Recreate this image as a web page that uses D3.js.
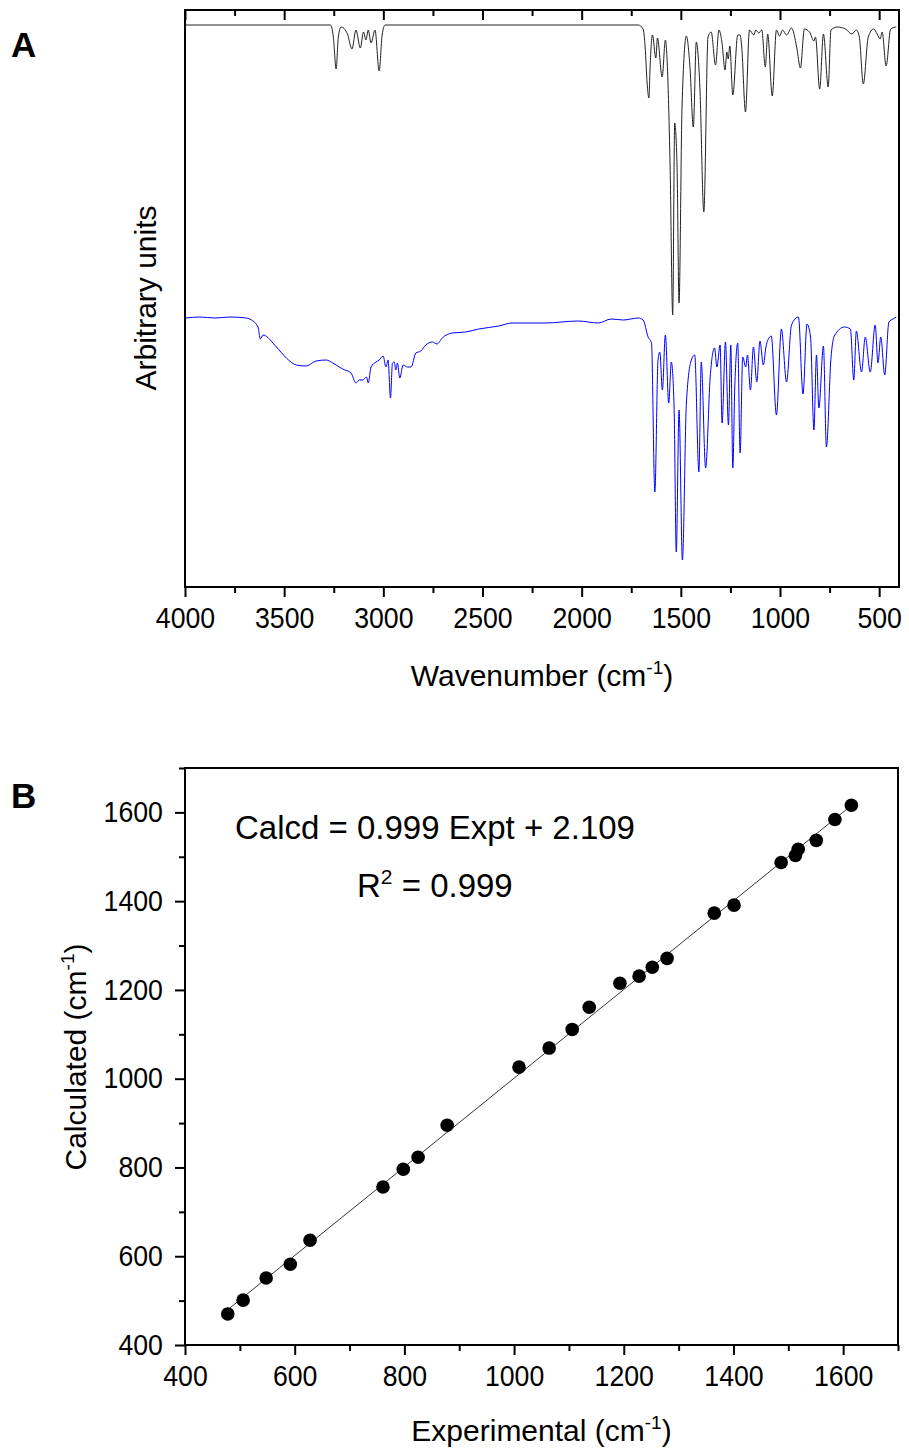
<!DOCTYPE html>
<html>
<head>
<meta charset="utf-8">
<script src="https://cdn.jsdelivr.net/npm/d3@7"></script>
<style>
  body { margin: 0; background: #fff; }
  text { font-family: Arial, "Liberation Sans", sans-serif; fill: #000; }
</style>
</head>
<body>
<svg id="fig" width="909" height="1449"></svg>
<script>
// ---- panel A: IR spectra (wavenumber, arbitrary units) ----
const calcWavenumber = [4000, 3267, 3252, 3238, 3227, 3213, 3181, 3158, 3138, 3116, 3100, 3088, 3076, 3062, 3042, 3021, 3006, 2991,
  1715, 1690, 1680, 1670, 1661, 1655, 1643, 1626, 1618, 1594, 1578, 1554, 1541, 1531, 1519, 1509, 1494, 1472, 1454, 1437, 1422,
  1404, 1384, 1363, 1347, 1325, 1308, 1293, 1277, 1268, 1261, 1253, 1238, 1213, 1201, 1193, 1174, 1154, 1132, 1122, 1107, 1092,
  1074, 1062, 1039, 1018, 1002, 987, 967, 942, 916, 897, 877, 851, 829, 821, 800, 781, 757, 743, 711, 670, 637, 615, 600, 580,
  555, 528, 510, 495, 485, 465, 442, 414]
const calcIntensity = [562, 562, 550, 518, 550, 560, 553, 538, 557, 539, 555, 547, 557, 544, 557, 516, 552, 562,
  562, 558, 540, 504, 489, 520, 552, 529, 549, 510, 547, 420, 272, 464, 420, 284, 480, 551, 520, 460, 545,
  500, 375, 550, 555, 522, 557, 545, 517, 535, 528, 541, 492, 552, 552, 540, 475, 557, 552, 557, 554, 557,
  520, 553, 491, 557, 551, 557, 552, 559, 540, 519, 558, 555, 546, 550, 498, 553, 500, 557, 560, 558, 553, 557, 550, 503,
  550, 558, 553, 548, 555, 521, 558, 560]

const exptWavenumber = [4000, 3925, 3849, 3774, 3690, 3665, 3632, 3620, 3607, 3539, 3489, 3439, 3389, 3339, 3288, 3255, 3205,
  3163, 3138, 3121, 3103, 3085, 3076, 3062, 3037, 3021, 3001, 2987, 2976, 2964, 2954, 2945, 2937, 2929, 2917, 2900, 2879, 2860,
  2836, 2811, 2786, 2753, 2729, 2703, 2653, 2585, 2519, 2418, 2351, 2184, 2016, 1916, 1851, 1790, 1715, 1690, 1665, 1648, 1631,
  1615, 1606, 1593, 1578, 1561, 1548, 1534, 1523, 1509, 1492, 1472, 1447, 1430, 1409, 1397, 1375, 1352, 1330, 1318, 1302, 1292,
  1275, 1260, 1248, 1238, 1228, 1213, 1201, 1188, 1173, 1164, 1149, 1134, 1117, 1101, 1084, 1071, 1052, 1044, 1018, 993, 967,
  942, 907, 884, 864, 846, 829, 816, 804, 781, 766, 743, 726, 675, 645, 628, 615, 589, 570, 545, 520, 506, 492, 472, 451, 430, 414]
const exptIntensity = [269, 270, 269, 270, 269, 267, 260, 248, 252, 240, 229, 222, 221, 226, 227, 224, 218,
  214, 204, 207, 207, 210, 204, 220, 225, 227, 231, 220, 227, 189, 224, 225, 217, 224, 209, 222, 220, 220,
  234, 236, 242, 245, 243, 249, 254, 255, 258, 261, 264, 264, 266, 264, 268, 267, 269, 267, 250, 244, 95,
  227, 235, 197, 252, 184, 225, 180, 35, 177, 27, 184, 227, 232, 115, 225, 119, 210, 239, 220, 242, 164,
  245, 162, 242, 119, 200, 244, 134, 230, 220, 232, 197, 240, 205, 246, 222, 240, 250, 251, 172, 258, 205,
  262, 270, 193, 263, 250, 157, 232, 179, 241, 140, 229, 251, 260, 258, 207, 256, 215, 250, 215, 262, 224, 250, 212, 265, 268, 270]

const wavenumberTicks = [4000, 3500, 3000, 2500, 2000, 1500, 1000, 500]
const wavenumberMinor = [3750, 3250, 2750, 2250, 1750, 1250, 750]

// ---- panel B: calculated vs experimental frequencies ----
const exptFreq = [478, 506, 548, 592, 628, 761, 798, 825, 878, 1009, 1064, 1106, 1137, 1193, 1228, 1252, 1279,
  1365, 1401, 1487, 1513, 1518, 1551, 1585, 1615]
const calcFreq = [470, 501, 551, 582, 636, 756, 796, 823, 895, 1026, 1069, 1111, 1161, 1215, 1231, 1251, 1271,
  1373, 1391, 1487, 1503, 1517, 1537, 1584, 1616]
const fitSlope = 0.999, fitIntercept = 2.109
const freqTicks = [400, 600, 800, 1000, 1200, 1400, 1600]
const freqMinor = [500, 700, 900, 1100, 1300, 1500, 1700]

const svg = d3.select('#fig')

function frame(box) {
  svg.append('rect')
    .attr('x', box.left).attr('y', box.top)
    .attr('width', box.right - box.left).attr('height', box.bottom - box.top)
    .attr('fill', 'none').attr('stroke', '#000').attr('stroke-width', 2)
}

// tick labels in the original look slightly condensed
function styleAxis(g) {
  g.select('.domain').remove()
  g.selectAll('line').attr('stroke', '#000').attr('stroke-width', 2)
  g.selectAll('text')
    .attr('font-size', 29)
    .attr('font-family', 'Arial, "Liberation Sans", sans-serif')
    .attr('transform', 'scale(0.92,1)')
}

function addTitle(text, x, y, rotate) {
  const t = svg.append('text')
    .attr('text-anchor', 'middle')
    .attr('font-size', 30)
    .attr('transform', `translate(${x},${y})` + (rotate ? ' rotate(-90)' : ''))
  t.append('tspan').text(text)
  return t
}

function addCmTitle(label, x, y, rotate) {
  const t = addTitle(label + ' (cm', x, y, rotate)
  t.append('tspan').attr('font-size', 19).attr('dy', -12).text('-1')
  t.append('tspan').attr('dy', 12).text(')')
}

// panel A
const A = { left: 185, right: 899, top: 10, bottom: 587 }
const xA = d3.scaleLinear().domain([4000, 400]).range([A.left, A.right])
const yA = d3.scaleLinear().domain([0, 577]).range([A.bottom, A.top])

const line = d3.line().x(d => xA(d[0])).y(d => yA(d[1])).curve(d3.curveMonotoneX)

svg.append('path')
  .datum(d3.zip(calcWavenumber, calcIntensity))
  .attr('d', line)
  .attr('fill', 'none').attr('stroke', '#222').attr('stroke-width', 1)

svg.append('path')
  .datum(d3.zip(exptWavenumber, exptIntensity))
  .attr('d', line)
  .attr('fill', 'none').attr('stroke', '#0000ff').attr('stroke-width', 1)

svg.append('g').attr('transform', `translate(0,${A.bottom})`)
  .call(d3.axisBottom(xA).tickValues(wavenumberTicks).tickSize(10).tickPadding(10).tickFormat(d3.format('d')))
  .call(styleAxis)
svg.append('g').attr('transform', `translate(0,${A.bottom})`)
  .call(d3.axisBottom(xA).tickValues(wavenumberMinor).tickSize(6).tickFormat(''))
  .call(styleAxis)
svg.append('g').attr('transform', `translate(0,${A.top})`)
  .call(d3.axisTop(xA).tickValues(wavenumberTicks).tickSize(-10).tickFormat(''))
  .call(styleAxis)
svg.append('g').attr('transform', `translate(0,${A.top})`)
  .call(d3.axisTop(xA).tickValues(wavenumberMinor).tickSize(-6).tickFormat(''))
  .call(styleAxis)

frame(A)

addCmTitle('Wavenumber', (A.left + A.right) / 2, 686, false)
addTitle('Arbitrary units', 156, 298, true)
svg.append('text').attr('x', 11).attr('y', 57).attr('font-size', 35).attr('font-weight', 'bold').text('A')

// panel B
const B = { left: 185, right: 898, top: 768, bottom: 1345 }
const xB = d3.scaleLinear().domain([400, 1700]).range([B.left, B.right])
const yB = d3.scaleLinear().domain([400, 1700]).range([B.bottom, B.top])

svg.append('line')
  .attr('x1', xB(470)).attr('y1', yB(fitSlope * 470 + fitIntercept))
  .attr('x2', xB(1625)).attr('y2', yB(fitSlope * 1625 + fitIntercept))
  .attr('stroke', '#000').attr('stroke-width', 0.8)

svg.append('g')
  .selectAll('circle')
  .data(d3.zip(exptFreq, calcFreq))
  .enter()
    .append('circle')
      .attr('cx', d => xB(d[0]))
      .attr('cy', d => yB(d[1]))
      .attr('r', 6.8)
      .attr('fill', '#000')

svg.append('g').attr('transform', `translate(0,${B.bottom})`)
  .call(d3.axisBottom(xB).tickValues(freqTicks).tickSize(10).tickPadding(10).tickFormat(d3.format('d')))
  .call(styleAxis)
svg.append('g').attr('transform', `translate(0,${B.bottom})`)
  .call(d3.axisBottom(xB).tickValues(freqMinor).tickSize(6).tickFormat(''))
  .call(styleAxis)
svg.append('g').attr('transform', `translate(${B.left},0)`)
  .call(d3.axisLeft(yB).tickValues(freqTicks).tickSize(10).tickPadding(14).tickFormat(d3.format('d')))
  .call(styleAxis)
svg.append('g').attr('transform', `translate(${B.left},0)`)
  .call(d3.axisLeft(yB).tickValues(freqMinor).tickSize(6).tickFormat(''))
  .call(styleAxis)

frame(B)

addCmTitle('Experimental', (B.left + B.right) / 2, 1441, false)
addCmTitle('Calculated', 86, 1057, true)
svg.append('text').attr('x', 11).attr('y', 808).attr('font-size', 35).attr('font-weight', 'bold').text('B')

svg.append('text').attr('x', 235).attr('y', 839).attr('font-size', 33)
  .text(`Calcd = ${fitSlope} Expt + ${fitIntercept}`)
const r2 = svg.append('text').attr('x', 357).attr('y', 897).attr('font-size', 33)
r2.append('tspan').text('R')
r2.append('tspan').attr('font-size', 21).attr('dy', -13).text('2')
r2.append('tspan').attr('dy', 13).text(' = 0.999')
</script>
</body>
</html>
